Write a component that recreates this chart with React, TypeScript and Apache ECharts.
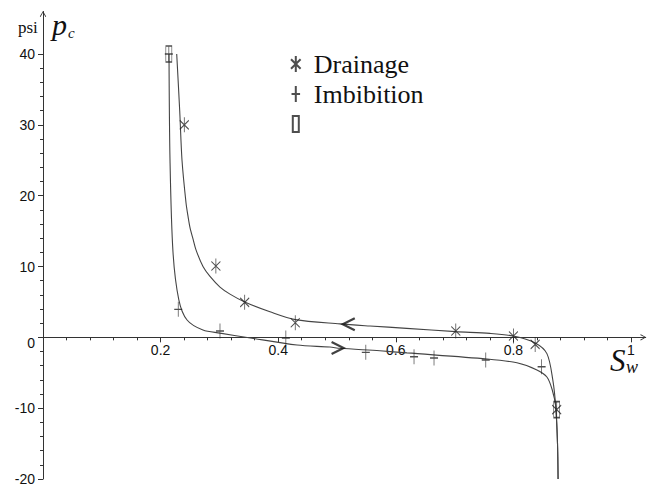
import React, { useEffect, useRef } from "react";
import * as echarts from "echarts";

// Measured points (symbols)
const drainageX = [0.2403, 0.294, 0.343, 0.429, 0.702, 0.8, 0.837, 0.8736];
const drainageY = [30, 10.07, 4.94, 2.06, 0.89, 0.18, -1.0, -10.2];
const imbibitionX = [0.214, 0.23, 0.301, 0.413, 0.549, 0.631, 0.665, 0.753, 0.848];
const imbibitionY = [40, 3.95, 0.89, -0.1, -2.12, -2.74, -2.92, -3.2, -4.15];
const endpointX = [0.214, 0.8736];
const endpointY = [40, -10.2];

// Fitted curves
const drainageCurveX = [0.2274, 0.2325, 0.2364, 0.2432, 0.2466, 0.25, 0.2551, 0.2602, 0.2721, 0.284, 0.301, 0.318, 0.344, 0.386, 0.429, 0.505, 0.556, 0.6185, 0.702, 0.76, 0.8, 0.837, 0.857, 0.867, 0.872, 0.875, 0.876];
const drainageCurveY = [40, 32, 25, 19.0, 17.1, 15.5, 13.9, 12.35, 10.0, 8.6, 7.1, 6.1, 4.95, 3.6, 2.5, 1.9, 1.6, 1.27, 0.8, 0.56, 0.18, -0.8, -2.3, -6.0, -9.8, -15, -20];
const imbibitionCurveX = [0.2143, 0.216, 0.2211, 0.231, 0.245, 0.272, 0.301, 0.35, 0.432, 0.488, 0.505, 0.573, 0.619, 0.755, 0.806, 0.84, 0.857, 0.866, 0.872, 0.875, 0.876];
const imbibitionCurveY = [40, 25, 12, 5.3, 2.45, 1.03, 0.6, -0.05, -1.09, -1.37, -1.55, -1.9, -2.2, -3.06, -3.6, -4.6, -5.6, -7.4, -9.8, -15, -20];

// Direction arrows on the curves
const arrowX = [0.52, 0.501];
const arrowY = [1.85, -1.5];
const arrowDir = ["left", "right"];

// Axis ranges and ticks
const xMin = 0;
const xMax = 1.025;
const yMin = -20;
const yMax = 46;
const xMajorTicks = [0.2, 0.4, 0.6, 0.8, 1];
const xMinorTicks = [0.04, 0.08, 0.12, 0.16, 0.24, 0.28, 0.32, 0.36, 0.44, 0.48, 0.52, 0.56, 0.64, 0.68, 0.72, 0.76, 0.84, 0.88, 0.92, 0.96];
const yMajorTicks = [-20, -10, 0, 10, 20, 30, 40];
const yMinorTicks = [-18, -16, -14, -12, -8, -6, -4, -2, 2, 4, 6, 8, 12, 14, 16, 18, 22, 24, 26, 28, 32, 34, 36, 38];

const ASTERISK = "path://M4.5,0L4.5,15M0,3L9,12M0,12L9,3";
const PLUS = "path://M4,0L4,15M0,7.5L8,7.5";
const BOX = "path://M0,0L6,0L6,16L0,16Z";
const LEFT = "path://M12,0L0,6L12,12";
const RIGHT = "path://M0,0L12,6L0,12";
const AXIS_ARROW = "path://M0,6L3.5,0L7,6L6.2,6.6L3.5,1.6L0.8,6.6Z";

const zip = (xs: number[], ys: number[]) => xs.map((x, i) => [x, ys[i]]);

const AXIS = "#333";
const CURVE = "#444";
const MARK = "#222";
const SANS = "Liberation Sans";
const SERIF = "Liberation Serif";

const GRID_TOP = 11.5;
const GRID_H = 467.5;
// the horizontal axis crosses at p_c = 0: shift it up from the grid bottom
const X_AXIS_OFFSET = -GRID_H * (0 - yMin) / (yMax - yMin);

export default function App() {
  const ref = useRef<HTMLDivElement>(null);
  useEffect(() => {
    const chart = echarts.init(ref.current!, null, { renderer: "svg" });
    const markStyle = { color: "rgba(0,0,0,0)", borderColor: MARK, borderWidth: 1 };
    const option: any = {
      animation: false,
      backgroundColor: "#fff",
      grid: { left: 43, top: GRID_TOP, width: 602.7, height: GRID_H, outerBoundsMode: "none" },
      xAxis: [
        {
          type: "value",
          min: xMin,
          max: xMax,
          position: "bottom",
          offset: X_AXIS_OFFSET,
          axisLine: {
            onZero: false,
            lineStyle: { color: AXIS, width: 1 },
            symbol: ["none", AXIS_ARROW],
            symbolSize: [7, 6],
            symbolOffset: [0, -2.5],
          },
          axisTick: { customValues: xMajorTicks, length: 5, lineStyle: { color: AXIS } },
          axisLabel: {
            customValues: xMajorTicks,
            margin: 6,
            fontFamily: SANS,
            fontSize: 14,
            color: "#111",
          },
          splitLine: { show: false },
        },
        {
          type: "value",
          min: xMin,
          max: xMax,
          position: "bottom",
          offset: X_AXIS_OFFSET,
          axisLine: { onZero: false, show: false },
          axisTick: { customValues: xMinorTicks, length: 3, lineStyle: { color: AXIS } },
          axisLabel: { show: false },
          splitLine: { show: false },
        },
      ],
      yAxis: [
        {
          type: "value",
          min: yMin,
          max: yMax,
          position: "left",
          axisLine: {
            show: true,
            onZero: false,
            lineStyle: { color: AXIS, width: 1 },
            symbol: ["none", AXIS_ARROW],
            symbolSize: [7, 6],
            symbolOffset: [0, -2.5],
          },
          axisTick: { show: true, customValues: yMajorTicks, length: 5, lineStyle: { color: AXIS } },
          axisLabel: {
            customValues: yMajorTicks,
            margin: 8,
            fontFamily: SANS,
            fontSize: 14,
            color: "#111",
            formatter: (v: number) => (v === 0 ? "{z|0}" : String(v)),
            rich: { z: { fontFamily: SANS, fontSize: 14, color: "#111", padding: [11, 0, 0, 0] } },
          },
          splitLine: { show: false },
        },
        {
          type: "value",
          min: yMin,
          max: yMax,
          position: "left",
          axisLine: { show: false, onZero: false },
          axisTick: { show: true, customValues: yMinorTicks, length: 3, lineStyle: { color: AXIS } },
          axisLabel: { show: false },
          splitLine: { show: false },
        },
      ],
      legend: {
        data: ["Drainage", "Imbibition", " "],
        orient: "vertical",
        left: 290,
        top: 51,
        padding: 0,
        itemGap: 4,
        itemWidth: 10,
        itemHeight: 16,
        selectedMode: false,
        textStyle: { fontFamily: SERIF, fontSize: 26, color: "#111", padding: [0, 0, 0, 8] },
      },
      graphic: [
        { type: "text", x: 18, y: 27, style: { text: "psi", font: `17px "${SERIF}"`, fill: "#111", verticalAlign: "middle" } },
        { type: "text", x: 52, y: 24, style: { text: "p", font: `italic 30px "${SERIF}"`, fill: "#111", verticalAlign: "middle" } },
        { type: "text", x: 68, y: 33, style: { text: "c", font: `italic 15px "${SERIF}"`, fill: "#111", verticalAlign: "middle" } },
        { type: "text", x: 610, y: 360, style: { text: "S", font: `italic 31px "${SERIF}"`, fill: "#111", verticalAlign: "middle" } },
        { type: "text", x: 626, y: 367, style: { text: "w", font: `italic 18px "${SERIF}"`, fill: "#111", verticalAlign: "middle" } },
      ],
      series: [
        {
          name: "drainage fit",
          type: "line",
          data: zip(drainageCurveX, drainageCurveY),
          showSymbol: false,
          smooth: 0.3,
          silent: true,
          lineStyle: { color: CURVE, width: 1.1 },
          z: 1,
        },
        {
          name: "imbibition fit",
          type: "line",
          data: zip(imbibitionCurveX, imbibitionCurveY),
          showSymbol: false,
          smooth: 0.3,
          silent: true,
          lineStyle: { color: CURVE, width: 1.1 },
          z: 1,
        },
        {
          name: "Drainage",
          type: "scatter",
          data: zip(drainageX, drainageY),
          symbol: ASTERISK,
          symbolSize: [9, 15],
          itemStyle: markStyle,
          z: 3,
        },
        {
          name: "Imbibition",
          type: "scatter",
          data: zip(imbibitionX, imbibitionY),
          symbol: PLUS,
          symbolSize: [8, 15],
          itemStyle: markStyle,
          z: 3,
        },
        {
          name: " ",
          type: "scatter",
          data: zip(endpointX, endpointY),
          symbol: BOX,
          symbolSize: [6, 16],
          itemStyle: markStyle,
          z: 3,
        },
        {
          name: "arrows",
          type: "scatter",
          data: arrowX.map((x, i) => ({ value: [x, arrowY[i]], symbol: arrowDir[i] === "left" ? LEFT : RIGHT })),
          symbolSize: [12, 12],
          silent: true,
          itemStyle: { color: "rgba(0,0,0,0)", borderColor: "#111", borderWidth: 2.2 },
          z: 4,
        },
      ],
    };
    chart.setOption(option);
    return () => chart.dispose();
  }, []);
  return (
    <div
      ref={ref}
      style={{ position: "absolute", left: 0, top: 0, width: 647, height: 490, background: "#fff" }}
    />
  );
}
